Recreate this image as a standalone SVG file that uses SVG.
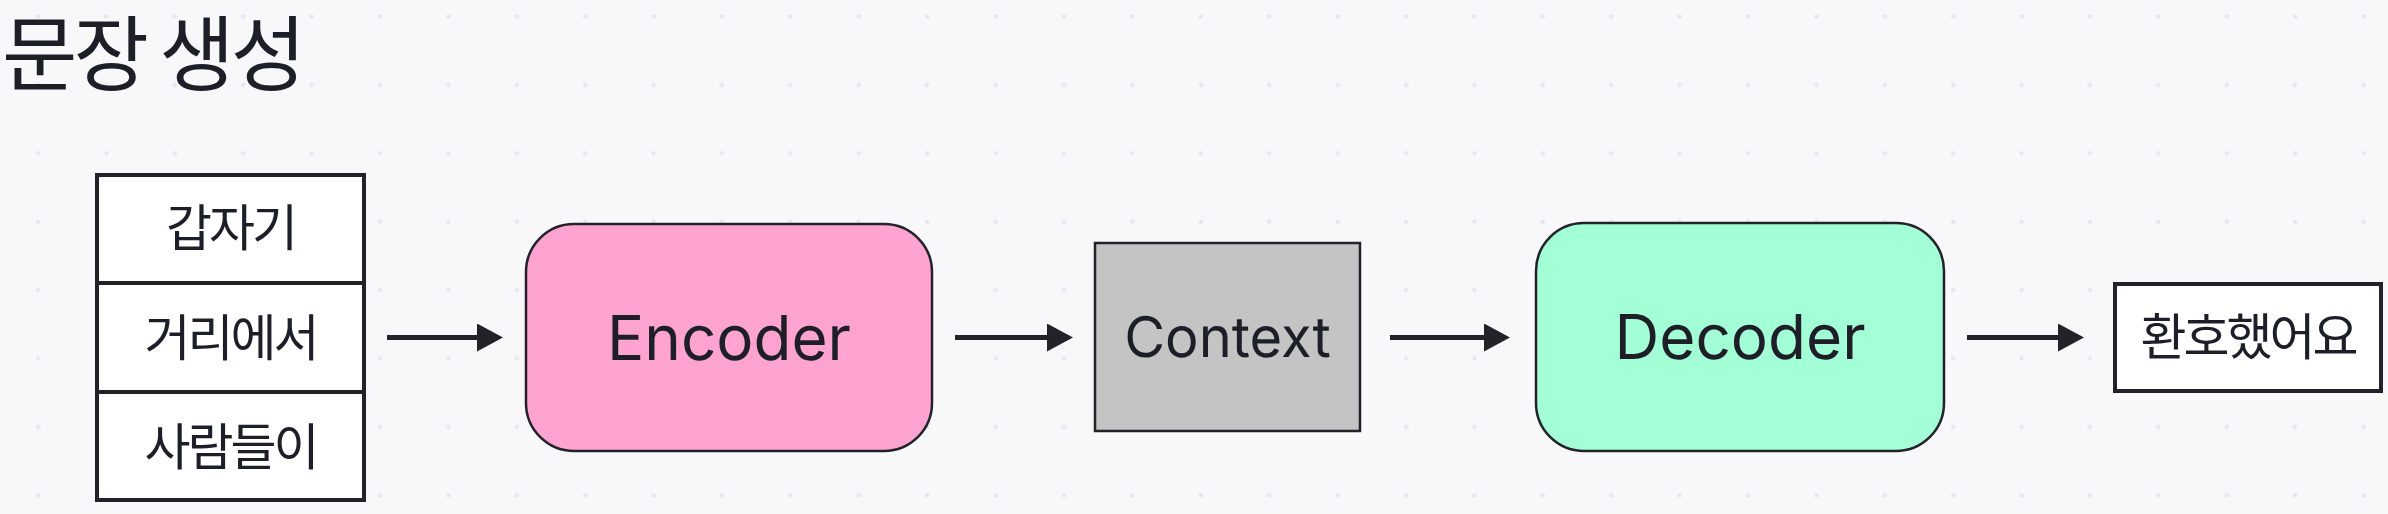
<svg xmlns="http://www.w3.org/2000/svg" width="2388" height="514" viewBox="0 0 2388 514">
  <style>
    .ko { font-family: "Noto Sans CJK KR", "Noto Sans", sans-serif; fill: #1e1e28; }
    .en { font-family: Inter, "Liberation Sans", sans-serif; fill: #1e1e28; text-rendering: geometricPrecision; }
    .cell { font-size: 50px; letter-spacing: -3px; text-anchor: middle; }
    .big { font-size: 62px; text-anchor: middle; }
    .box { fill: #ffffff; stroke: #222228; stroke-width: 4; }
    .thin { stroke: #222228; stroke-width: 2.5; }
    .conn { stroke: #222228; stroke-width: 5; fill: none; marker-end: url(#arrow); }
  </style>
  <defs>
    <pattern id="dots" x="3.8" y="-17.7" width="68.4" height="68.4" patternUnits="userSpaceOnUse">
      <circle cx="34.2" cy="34.2" r="2.2" fill="#e6e6ec"/>
    </pattern>
    <marker id="arrow" viewBox="0 0 26 28" refX="0" refY="14" markerWidth="26" markerHeight="28" markerUnits="userSpaceOnUse" orient="auto">
      <path d="M0,0 L26,14 L0,28 Z" fill="#222228"/>
    </marker>
  </defs>
  <rect width="2388" height="514" fill="#f8f8fa"/>
  <rect width="2388" height="514" fill="url(#dots)"/>

  <text id="title" class="ko" x="2" y="84" font-size="82" letter-spacing="-4">문장 생성</text>

  <g id="input">
    <rect class="box" x="97" y="175" width="267" height="325"/>
    <line x1="97" y1="283" x2="364" y2="283" stroke="#222228" stroke-width="4"/>
    <line x1="97" y1="392" x2="364" y2="392" stroke="#222228" stroke-width="4"/>
    <text class="ko cell" x="230.5" y="246">갑자기</text>
    <text class="ko cell" x="230.5" y="356">거리에서</text>
    <text class="ko cell" x="230.5" y="465">사람들이</text>
  </g>

  <g id="encoder">
    <rect class="thin" x="526" y="224" width="406" height="227" rx="48" fill="#ffa3d1"/>
    <text class="en big" x="729" y="360">Encoder</text>
  </g>

  <g id="context">
    <rect class="thin" x="1095" y="243" width="265" height="188" fill="#c4c4c4"/>
    <text class="en" x="1227.5" y="357" font-size="56" text-anchor="middle">Context</text>
  </g>

  <g id="decoder">
    <rect class="thin" x="1536" y="223" width="408" height="228" rx="48" fill="#a3ffd5"/>
    <text class="en big" x="1740" y="359">Decoder</text>
  </g>

  <g id="output">
    <rect class="box" x="2115" y="284" width="266" height="107"/>
    <text class="ko cell" x="2248" y="355">환호했어요</text>
  </g>

  <g id="connectors">
    <line class="conn" x1="387" y1="337.5" x2="477" y2="337.5"/>
    <line class="conn" x1="955" y1="337.5" x2="1047" y2="337.5"/>
    <line class="conn" x1="1390" y1="337.5" x2="1484" y2="337.5"/>
    <line class="conn" x1="1967" y1="337.5" x2="2058" y2="337.5"/>
  </g>
</svg>
